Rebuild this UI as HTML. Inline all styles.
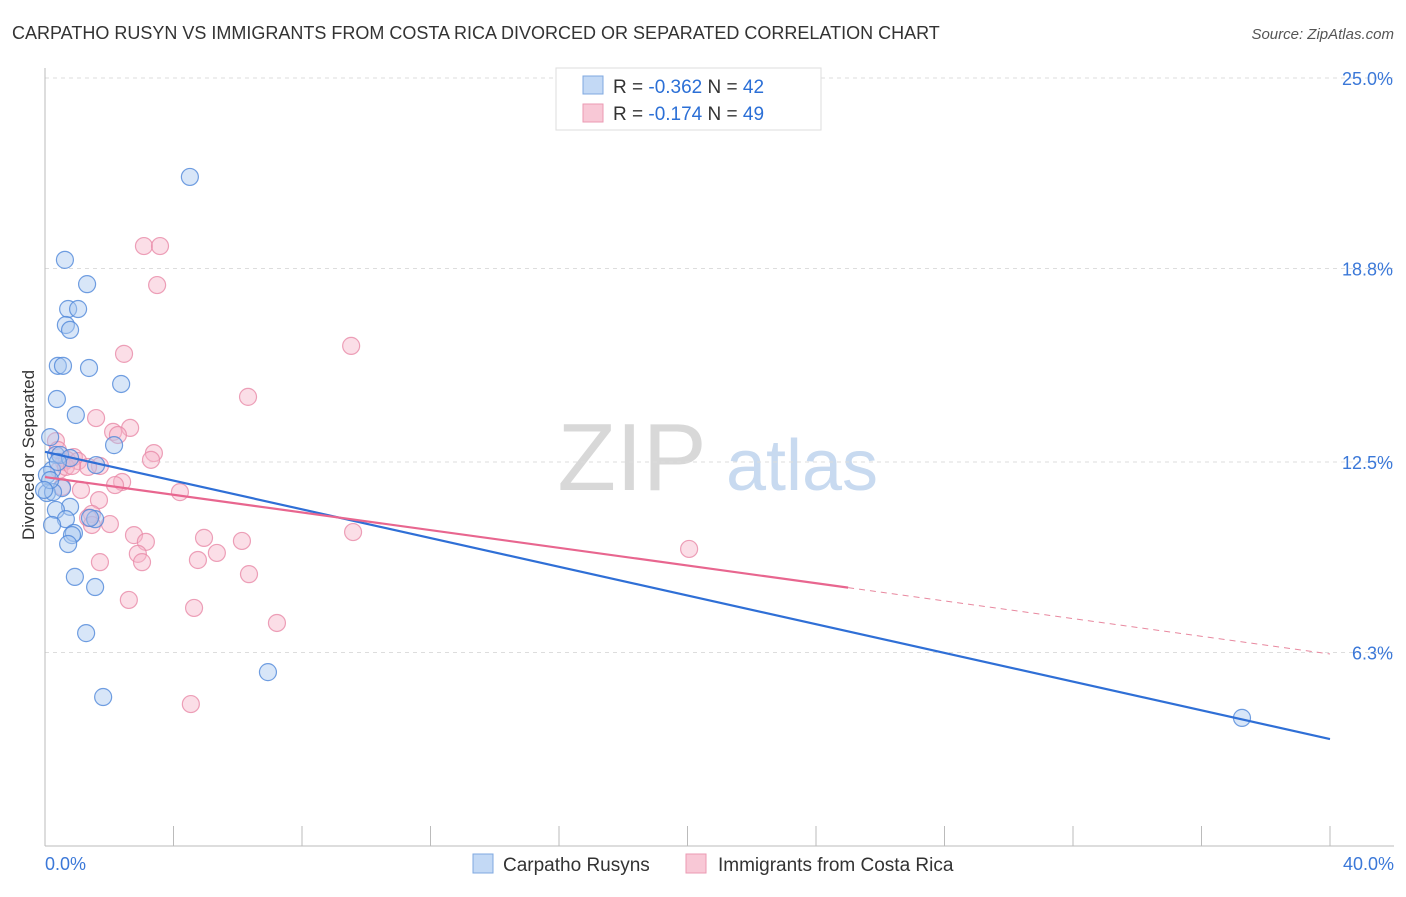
<!DOCTYPE html>
<html><head><meta charset="utf-8"><style>
body{margin:0;background:#fff;font-family:"Liberation Sans",sans-serif;}
svg text{font-family:"Liberation Sans",sans-serif;}
</style></head><body>
<svg id="chart" width="1406" height="892" xmlns="http://www.w3.org/2000/svg">
<text x="12" y="39" font-size="18" fill="#333">CARPATHO RUSYN VS IMMIGRANTS FROM COSTA RICA DIVORCED OR SEPARATED CORRELATION CHART</text>
<text x="1394" y="39" font-size="15" fill="#555" font-style="italic" text-anchor="end">Source: ZipAtlas.com</text>
<g>
<text x="632" y="490" font-size="96" fill="#d8d8d8" font-family="Liberation Serif,serif" text-anchor="middle">ZIP</text>
<text x="802" y="490" font-size="72" fill="#c8daf0" text-anchor="middle">atlas</text>
</g>
<g id="grid"></g>
<g id="axes"></g>
<g id="pts"></g>
<g id="trends"></g>
<text transform="translate(34,455) rotate(-90)" font-size="17" fill="#333" text-anchor="middle">Divorced or Separated</text>
<g>
<rect x="556" y="68" width="265" height="62" fill="#fff" stroke="#ddd"/>
<rect x="583" y="76" width="20" height="18" fill="#c3d9f5" stroke="#7fa8e0"/>
<rect x="583" y="104" width="20" height="18" fill="#f8c8d6" stroke="#eb9ab3"/>
<text x="613" y="93" font-size="19" fill="#333">R = <tspan fill="#2b6fd6">-0.362</tspan>   N = <tspan fill="#2b6fd6">42</tspan></text>
<text x="613" y="120" font-size="19" fill="#333">R =  <tspan fill="#2b6fd6">-0.174</tspan>   N = <tspan fill="#2b6fd6">49</tspan></text>
</g>
<g>
<rect x="473" y="854" width="20" height="19" fill="#c3d9f5" stroke="#7fa8e0"/>
<text x="503" y="871" font-size="19" fill="#333">Carpatho Rusyns</text>
<rect x="686" y="854" width="20" height="19" fill="#f8c8d6" stroke="#eb9ab3"/>
<text x="718" y="871" font-size="19" fill="#333">Immigrants from Costa Rica</text>
</g>
</svg>
<script>
const yTicks=[6.3,12.5,18.8,25.0];
const yTickLabels=["6.3%","12.5%","18.8%","25.0%"];
const xTickLabels=["0.0%","40.0%"];
const bluePx=[[190,177],[65,260],[87,284],[68,309],[78,309],[66,325],[70,330],[58,366],[63,366],[89,368],[121,384],[57,399],[76,415],[50,437],[114,445],[56,455],[60,455],[70,458],[96,465],[52,470],[47,475],[62,488],[47,493],[53,492],[70,507],[56,510],[66,519],[95,519],[90,518],[52,525],[74,533],[72,535],[68,544],[75,577],[95,587],[86,633],[268,672],[103,697],[1242,718],[50,480],[58,462],[44,490]];
const pinkPx=[[144,246],[160,246],[157,285],[351,346],[124,354],[248,397],[96,418],[56,441],[130,428],[113,432],[118,435],[154,453],[151,460],[74,457],[64,462],[67,460],[78,461],[59,470],[66,467],[100,466],[88,467],[122,482],[115,485],[62,487],[81,490],[180,492],[99,500],[92,514],[88,518],[92,525],[110,524],[353,532],[134,535],[146,542],[204,538],[242,541],[689,549],[138,554],[217,553],[142,562],[198,560],[100,562],[249,574],[129,600],[194,608],[277,623],[191,704],[72,466],[58,450]];
// convert estimated reading to data values (x in %, y in %)
const blueX=bluePx.map(p=>+((p[0]-45)/32.125).toFixed(2));
const blueY=bluePx.map(p=>+((846-p[1])/30.72).toFixed(2));
const pinkX=pinkPx.map(p=>+((p[0]-45)/32.125).toFixed(2));
const pinkY=pinkPx.map(p=>+((846-p[1])/30.72).toFixed(2));
const blueTrend=[12.83,3.48];   // y at x=0, x=40
const pinkTrend=[12.01,6.25];
const pinkSolidEnd=25.0;

const X=v=>45+v*(1285/40);
const Y=v=>846-v*30.72;
const NS="http://www.w3.org/2000/svg";
function mk(tag,attrs,parent){const e=document.createElementNS(NS,tag);for(const k in attrs)e.setAttribute(k,attrs[k]);parent.appendChild(e);return e;}
const grid=document.getElementById('grid'),axes=document.getElementById('axes'),pts=document.getElementById('pts'),tr=document.getElementById('trends');
yTicks.forEach((t,i)=>{
 const l=mk('line',{x1:45,x2:1394,y1:Y(t),y2:Y(t),stroke:'#ddd','stroke-dasharray':'4,4'},grid);
 
 
 const tx=mk('text',{x:1393,y:Y(t)+7,'font-size':18,fill:'#3b78d8','text-anchor':'end'},axes);
 tx.textContent=yTickLabels[i];
 
 
});
const yl=mk('line',{x1:45,x2:45,y1:68,y2:846,stroke:'#bbb'},axes);


const xl=mk('line',{x1:45,x2:1394,y1:846,y2:846,stroke:'#bbb'},axes);


for(let i=1;i<=10;i++){const t=mk('line',{x1:X(i*4),x2:X(i*4),y1:826,y2:846,stroke:'#bbb'},axes);
 
 }
[[0,'start',45],[40,'end',1394]].forEach((d,i)=>{const t=mk('text',{x:d[2],y:870,'font-size':18,fill:'#3b78d8','text-anchor':d[1]},axes);t.textContent=xTickLabels[i];
 
 });
function dots(xs,ys,fill,stroke,name){xs.forEach((x,i)=>{const c=mk('circle',{cx:X(x),cy:Y(ys[i]),r:8.5,fill:fill,'fill-opacity':0.45,stroke:stroke,'stroke-width':1.2,'stroke-opacity':0.8},pts);
 
 });}
dots(pinkX,pinkY,'#f6b6c9','#e88aa7','point-costa-rica');
dots(blueX,blueY,'#a9c8f0','#4f87d9','point-carpatho');
const lb=mk('line',{x1:X(0),y1:Y(blueTrend[0]),x2:X(40),y2:Y(blueTrend[1]),stroke:'#2f6fd6','stroke-width':2.2},tr);


const py=x=>pinkTrend[0]+(pinkTrend[1]-pinkTrend[0])*x/40;
const lp=mk('line',{x1:X(0),y1:Y(py(0)),x2:X(pinkSolidEnd),y2:Y(py(pinkSolidEnd)),stroke:'#e8668f','stroke-width':2.2},tr);


const ld=mk('line',{x1:X(pinkSolidEnd),y1:Y(py(pinkSolidEnd)),x2:X(40),y2:Y(py(40)),stroke:'#e8889f','stroke-width':1,'stroke-dasharray':'6,5'},tr);


</script>
</body></html>
